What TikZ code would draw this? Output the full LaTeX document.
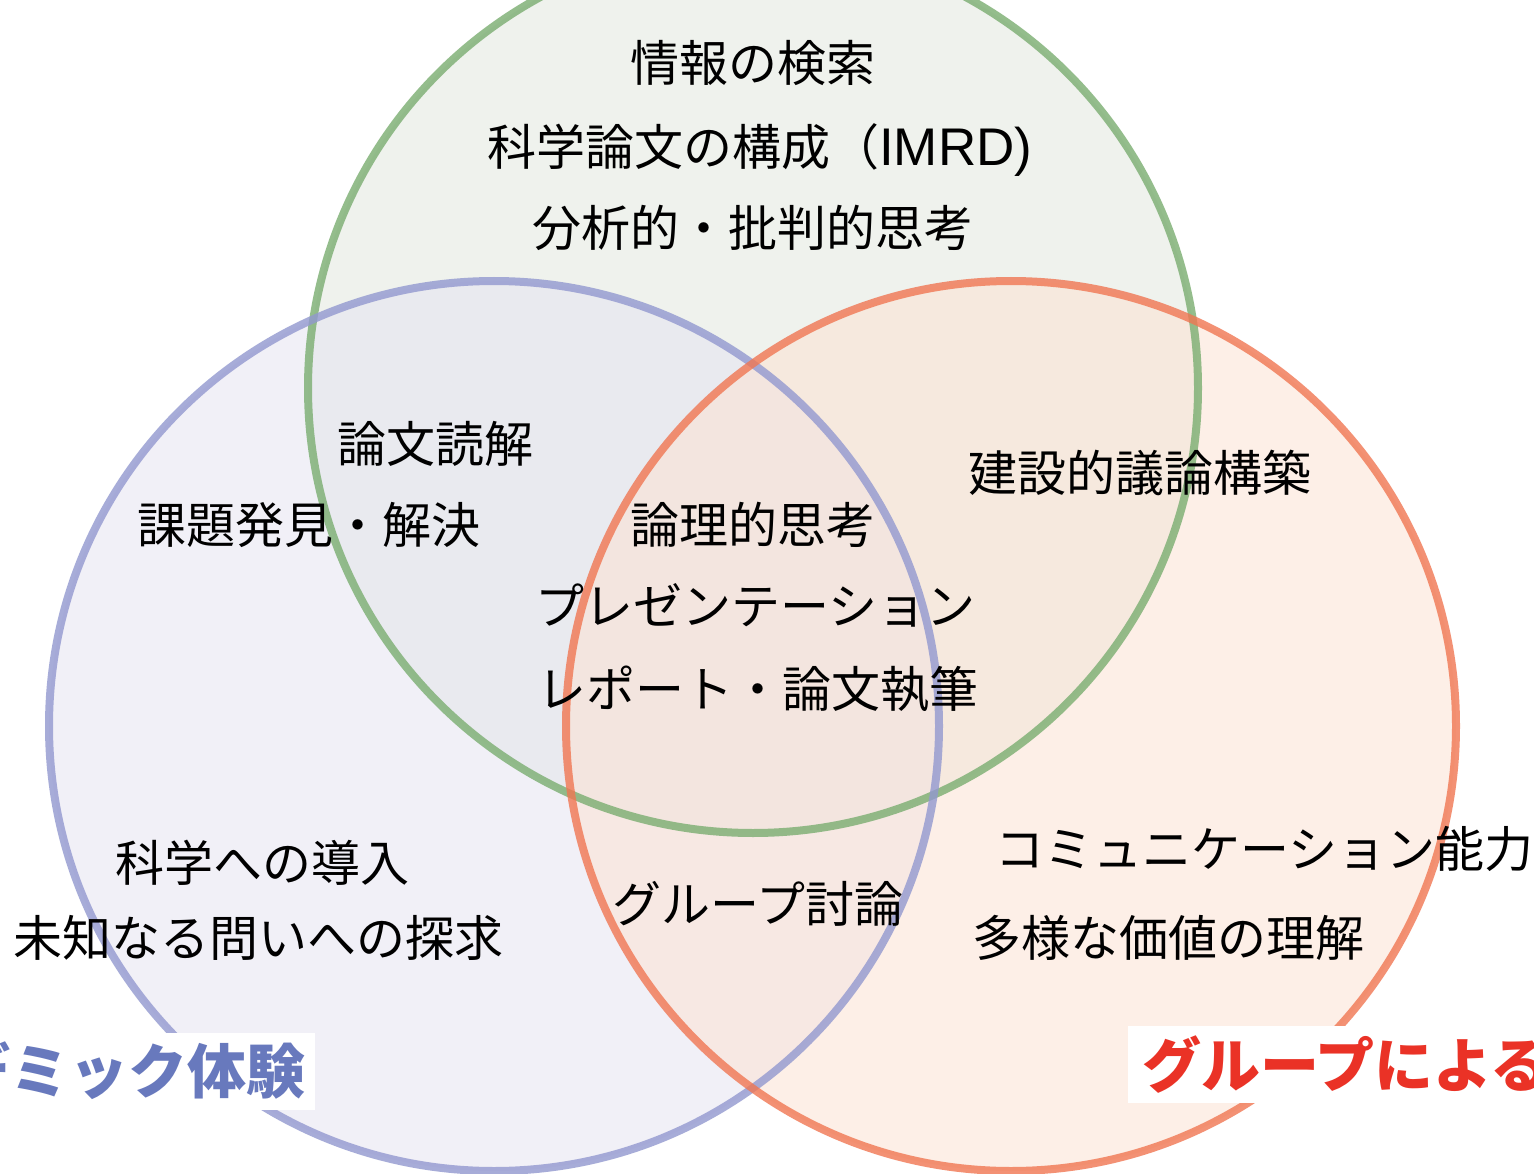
\documentclass[tikz,border=0pt]{standalone}
\usepackage{fontspec}
\newfontfamily\jp{Noto Sans CJK JP}
\newfontfamily\lat{Liberation Sans}
\definecolor{gfill}{RGB}{225,231,221}
\definecolor{bfill}{RGB}{229,227,241}
\definecolor{ofill}{RGB}{253,225,209}
\definecolor{gline}{RGB}{122,173,112}
\definecolor{bline}{RGB}{146,152,207}
\definecolor{oline}{RGB}{240,118,82}
\definecolor{blab}{RGB}{104,121,189}
\definecolor{rlab}{RGB}{234,50,38}
\begin{document}
\begin{tikzpicture}[x=1pt,y=-1pt,
  txt/.style={anchor=base west,inner sep=0pt,font=\jp\fontsize{49}{59}\selectfont,text=black},
  lab/.style={inner sep=0pt,font=\jp\bfseries\fontsize{59}{70}\selectfont},
  disc/.style={fill opacity=0.5},
  ring/.style={line width=8pt,draw opacity=0.8}]
\useasboundingbox (0,0) rectangle (1534,1174);
\clip (0,0) rectangle (1534,1174);
\fill[white] (0,0) rectangle (1534,1174);
\fill[disc,gfill] (753,388) circle[radius=445pt];
\fill[disc,bfill] (494,726) circle[radius=445pt];
\fill[disc,ofill] (1011,726) circle[radius=445pt];
\draw[ring,gline] (753,388) circle[radius=445pt];
\draw[ring,bline] (494,726) circle[radius=445pt];
\draw[ring,oline] (1011,726) circle[radius=445pt];
% top region
\node[txt] (t1) at (630,82) {情報の検索};
\node[txt] (t2) at (487,166) {科学論文の構成（{\lat\fontsize{53}{60}\selectfont IMRD)}};
\node[txt] (t3) at (532,247) {分析的・批判的思考};
% left-top overlap
\node[txt] (a1) at (337,462) {論文読解};
\node[txt] (a2) at (137,543) {課題発見・解決};
% centre
\node[txt] (c1) at (630,543) {論理的思考};
\node[txt] (c2) at (535,624) {プレゼンテーション};
\node[txt] (c3) at (537,707) {レポート・論文執筆};
% right-top overlap
\node[txt] (r1) at (968,491) {建設的議論構築};
% left bottom
\node[txt] (l1) at (115,881) {科学への導入};
\node[txt] (l2) at (13,956) {未知なる問いへの探求};
% bottom centre
\node[txt] (b1) at (612,922) {グループ討論};
% right bottom
\node[txt] (o1) at (995,867) {コミュニケーション能力};
\node[txt] (o2) at (972,956) {多様な価値の理解};
% labels (cut off at the picture's edges, as in the reference)
\fill[white] (-10,1033) rectangle (315,1110);
\node[lab,text=blab,anchor=east] (L) at (306,1071) {アカデミック体験};
\fill[white] (1128,1026) rectangle (1544,1103);
\node[lab,text=rlab,anchor=west] (R) at (1142,1065) {グループによる};
\end{tikzpicture}
\end{document}
